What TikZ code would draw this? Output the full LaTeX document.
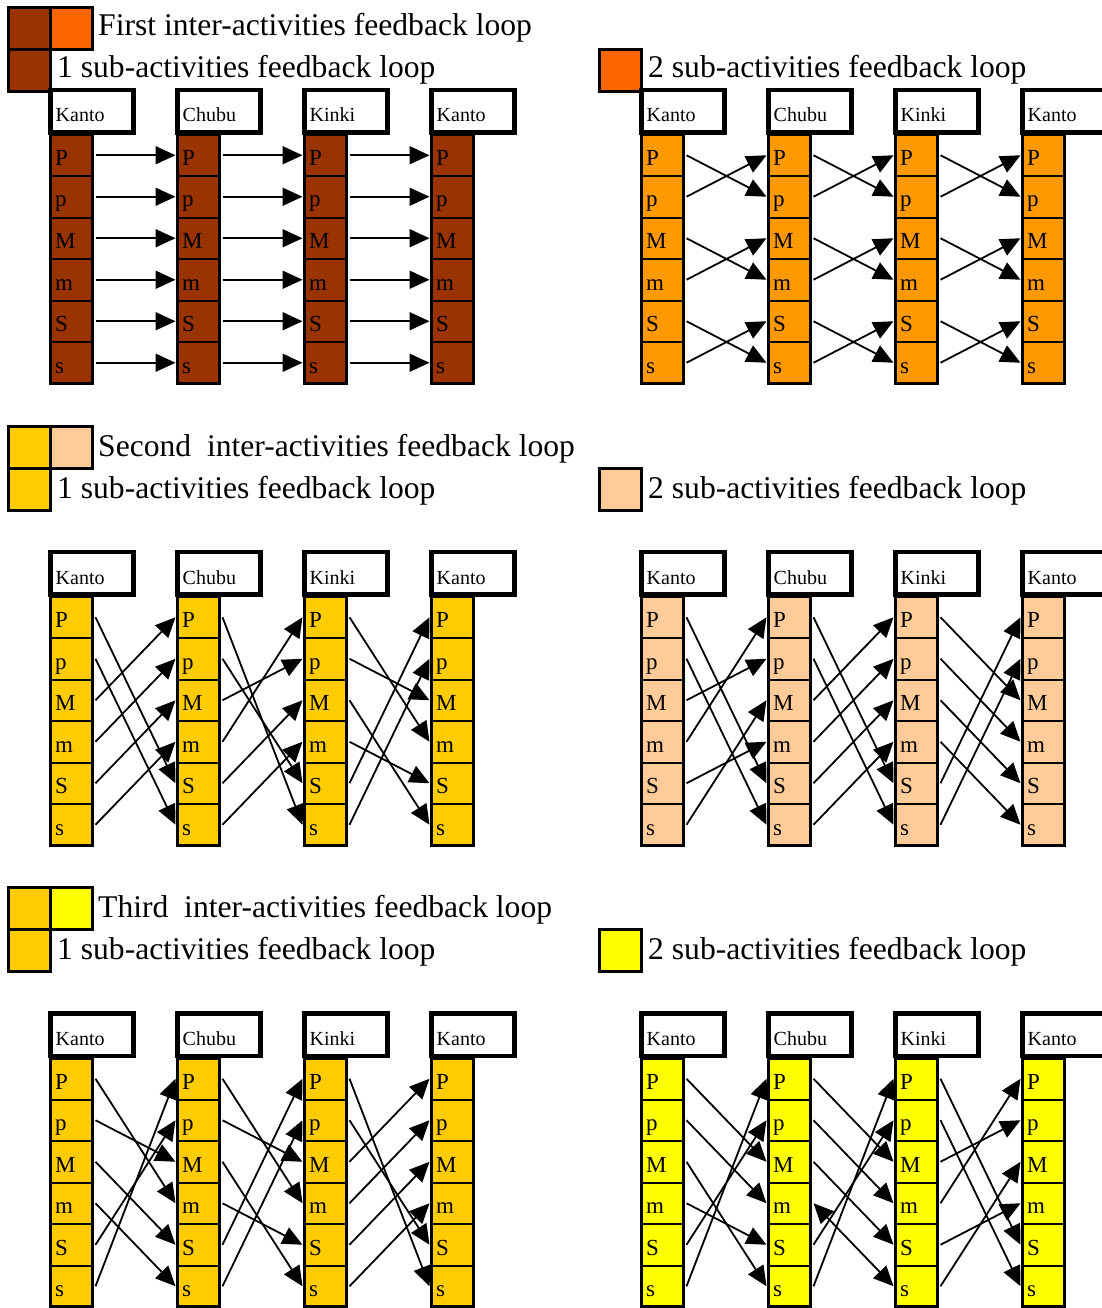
\documentclass[tikz,border=0pt]{standalone}
\usepackage{fontspec}
\setmainfont{Liberation Serif}
\usetikzlibrary{arrows.meta}
\definecolor{brownC}{HTML}{993300}
\definecolor{orangeL}{HTML}{FF6600}
\definecolor{orangeC}{HTML}{FF9900}
\definecolor{goldC}{HTML}{FFCC00}
\definecolor{peachC}{HTML}{FFCC99}
\definecolor{yellowC}{HTML}{FFFF00}
\tikzset{
  cell/.style={draw, line width=2pt, inner sep=0pt, outer sep=0pt,
    minimum width=42pt, minimum height=41.5pt, anchor=north west},
  hdr/.style={draw, line width=4.5pt, fill=white, inner sep=0pt, outer sep=0pt,
    minimum width=83pt, minimum height=42.5pt, anchor=north west},
  lbl/.style={font=\fontsize{23}{25}\selectfont, anchor=base west, inner sep=0pt},
  hlbl/.style={font=\fontsize{20}{22}\selectfont, anchor=base west, inner sep=0pt},
  leg/.style={draw, line width=3pt, inner sep=0pt, outer sep=0pt,
    minimum width=42pt, minimum height=42pt, anchor=north west},
  legtxt/.style={font=\fontsize{31.6}{34}\selectfont, anchor=base west, inner sep=0pt},
  tip/.tip={Triangle[length=20pt,width=18pt]},
  flow/.style={line width=1.8pt, -tip},
  bothflow/.style={line width=1.8pt, tip-tip},
}
% one block of four regional columns: #1 name, #2 left x, #3 column top y, #4 fill
\newcommand{\drawpanel}[4]{%
  \foreach \ci/\hn in {0/Kanto,1/Chubu,2/Kinki,3/Kanto}{%
    \node[hdr] (#1-h\ci) at ({#2+127*\ci},{#3-44.5}) {};
    \node[hlbl] at ({#2+127*\ci+5},{#3-12.5}) {\hn};
    \foreach \ri/\lt in {1/P,2/p,3/M,4/m,5/S,6/s}{%
      \node[cell, fill=#4] (#1-\ci-\ri) at ({#2+127*\ci},{#3+41.5*(\ri-1)}) {};
      \node[lbl] at ({#2+127*\ci+4.5},{#3+41.5*\ri-10.5}) {\lt};
    }
    \draw[line width=3.5pt] ({#2+127*\ci},#3) rectangle ++(42,249);
  }%
}
% feedback arrows from column #2 to column #3 of block #1, list of row pairs
\newcommand{\links}[4]{%
  \foreach \ra/\rb in {#4}
    \draw[flow] ([xshift=3pt]#1-#2-\ra.east) -- ([xshift=-2pt]#1-#3-\rb.west);
}
\begin{document}
\begin{tikzpicture}[x=1pt,y=-1pt]
\useasboundingbox (0,0) rectangle (1102,1308);
\clip (0,0) rectangle (1102,1308);
\fill[white] (0,0) rectangle (1102,1308);

% ---- first loop legend
\node[leg, fill=brownC] (l1a) at (8,8) {};
\node[leg, fill=orangeL] (l1b) at (50,8) {};
\node[leg, fill=brownC] (l1c) at (8,50) {};
\node[legtxt] (t1a) at (98,36) {First inter-activities feedback loop};
\node[legtxt] (t1b) at (57,78) {1 sub-activities feedback loop};
\node[leg, fill=orangeL] (l1d) at (599,50) {};
\node[legtxt] (t1c) at (648,78) {2 sub-activities feedback loop};

% ---- second loop legend
\node[leg, fill=goldC] (l2a) at (8,426) {};
\node[leg, fill=peachC] (l2b) at (50,426) {};
\node[leg, fill=goldC] (l2c) at (8,468) {};
\node[legtxt] (t2a) at (98,456) {Second\ \ inter-activities feedback loop};
\node[legtxt] (t2b) at (57,498) {1 sub-activities feedback loop};
\node[leg, fill=peachC] (l2d) at (599,468) {};
\node[legtxt] (t2c) at (648,498) {2 sub-activities feedback loop};

% ---- third loop legend
\node[leg, fill=goldC] (l3a) at (8,887) {};
\node[leg, fill=yellowC] (l3b) at (50,887) {};
\node[leg, fill=goldC] (l3c) at (8,929) {};
\node[legtxt] (t3a) at (98,917) {Third\ \ inter-activities feedback loop};
\node[legtxt] (t3b) at (57,959) {1 sub-activities feedback loop};
\node[leg, fill=yellowC] (l3d) at (599,929) {};
\node[legtxt] (t3c) at (648,959) {2 sub-activities feedback loop};

% ---- blocks
\drawpanel{A}{50.5}{134.5}{brownC}
\drawpanel{B}{641.5}{134.5}{orangeC}
\drawpanel{C}{50.5}{596.5}{goldC}
\drawpanel{D}{641.5}{596.5}{peachC}
\drawpanel{E}{50.5}{1058}{goldC}
\drawpanel{F}{641.5}{1058}{yellowC}

% ---- arrows
\links{A}{0}{1}{1/1,2/2,3/3,4/4,5/5,6/6}
\links{A}{1}{2}{1/1,2/2,3/3,4/4,5/5,6/6}
\links{A}{2}{3}{1/1,2/2,3/3,4/4,5/5,6/6}

\links{B}{0}{1}{1/2,2/1,3/4,4/3,5/6,6/5}
\links{B}{1}{2}{1/2,2/1,3/4,4/3,5/6,6/5}
\links{B}{2}{3}{1/2,2/1,3/4,4/3,5/6,6/5}

\links{C}{0}{1}{1/5,2/6,3/1,4/2,5/3,6/4}
\links{C}{1}{2}{1/6,2/5,3/2,4/1,5/3,6/4}
\links{C}{2}{3}{1/4,2/3,3/6,4/5,5/1,6/2}

\links{D}{0}{1}{1/5,2/6,3/2,4/1,5/4,6/3}
\links{D}{1}{2}{1/5,2/6,3/1,4/2,5/3,6/4}
\links{D}{2}{3}{1/3,2/4,3/5,4/6,5/1,6/2}

\links{E}{0}{1}{1/4,2/3,3/5,4/6,5/2,6/1}
\links{E}{1}{2}{1/4,2/3,3/6,4/5,5/1,6/2}
\links{E}{2}{3}{1/6,2/5,3/1,4/2,5/3,6/4}

\links{F}{0}{1}{1/3,2/4,3/6,4/5,5/2,6/1}
\links{F}{1}{2}{1/3,2/4,3/5,5/2,6/1}
\draw[bothflow] ([xshift=3pt]F-1-4.east) -- ([xshift=-2pt]F-2-6.west);
\links{F}{2}{3}{1/5,2/6,3/2,4/1,5/4,6/3}
\end{tikzpicture}
\end{document}
